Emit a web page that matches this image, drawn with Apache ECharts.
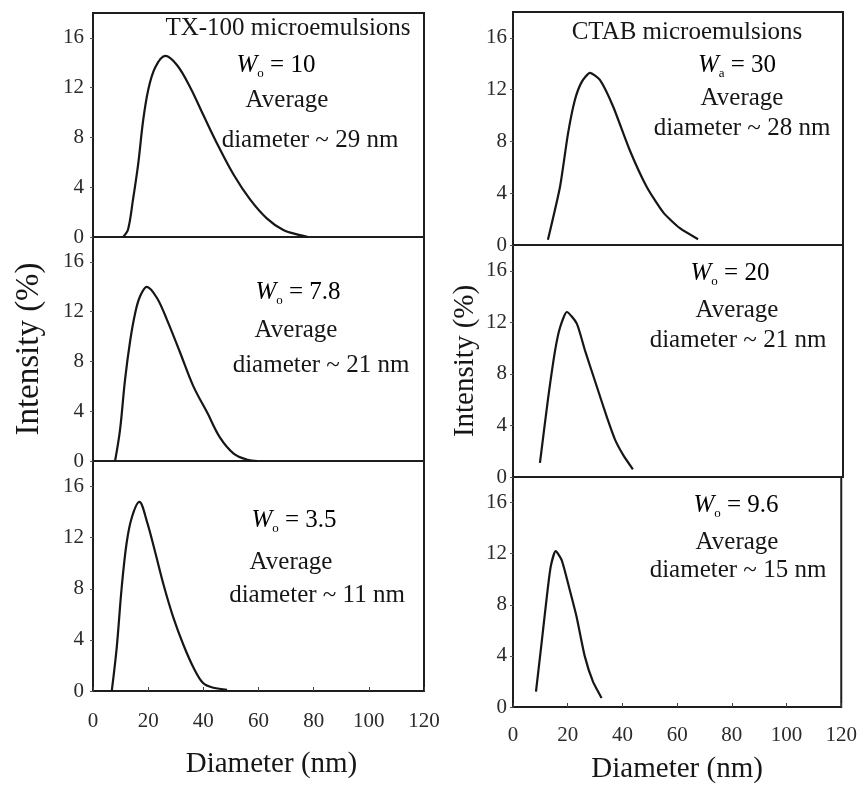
<!DOCTYPE html>
<html><head><meta charset="utf-8">
<script src="https://cdn.jsdelivr.net/npm/echarts@6/dist/echarts.min.js"></script>
<style>html,body{margin:0;padding:0;background:#fff}#c{width:860px;height:785px}</style>
</head><body><div id="c"></div>
<script>
// TX-100 microemulsions
var txW10_x = [10.9, 12.7, 14.5, 16.4, 18.2, 20, 22.5, 26.2, 30.5, 35.3, 40, 45, 51, 57, 63, 69, 75, 78];
var txW10_y = [0, 0.6, 3, 5.9, 9.4, 11.8, 13.6, 14.55, 13.8, 12, 9.8, 7.5, 5, 3, 1.5, 0.56, 0.15, 0];
var txW78_x = [8, 9.8, 11.6, 13.5, 15.3, 17, 19.5, 23.2, 26.9, 31.6, 36.4, 41.5, 46, 51, 56, 59.6];
var txW78_y = [0, 2.5, 6.5, 9.7, 11.9, 13.2, 14.0, 13.1, 11.3, 8.7, 6.0, 3.85, 1.9, 0.6, 0.1, 0];
var txW35_x = [6.8, 8.6, 10.4, 12.2, 14.1, 16.8, 19.5, 22.5, 25.6, 29.2, 32.8, 36.5, 40, 43.7, 48.6];
var txW35_y = [0, 3.4, 8.1, 11.6, 13.6, 14.8, 13.3, 10.9, 8.3, 5.7, 3.6, 1.8, 0.6, 0.25, 0.1];
// CTAB microemulsions
var ctW30_x = [12.7, 17.1, 20, 22.5, 25, 28, 31.6, 36.4, 42.5, 48.6, 54.7, 60.7, 67.3];
var ctW30_y = [0.4, 4.5, 8.6, 11.2, 12.6, 13.3, 12.75, 10.7, 7.3, 4.5, 2.5, 1.3, 0.45];
var ctW20_x = [9.8, 12.7, 15.3, 17.1, 19.6, 23.2, 26.2, 30.5, 34.2, 37.1, 40.1, 43.6];
var ctW20_y = [1.1, 6, 9.8, 11.6, 12.8, 11.9, 9.8, 7, 4.6, 2.9, 1.7, 0.6];
var ctW96_x = [8.4, 10.5, 12.4, 13.8, 15.6, 17.8, 20.7, 23.2, 26.2, 29.2, 32.4];
var ctW96_y = [1.2, 5.1, 8.7, 11, 12.2, 11.5, 9.2, 7.1, 4, 2, 0.7];

var yTicks = [0, 4, 8, 12, 16];
var xTicks = [0, 20, 40, 60, 80, 100, 120];

var FONT = '"Liberation Serif", "Times New Roman", serif';
var INK = '#161616';

function pairs(xs, ys){ return xs.map(function(x,i){return [x, ys[i]];}); }

var grids = [
  {left: 93, top: 13, width: 331, height: 224},
  {left: 93, top: 237, width: 331, height: 224},
  {left: 93, top: 461, width: 331, height: 230},
  {left: 513, top: 12, width: 330, height: 233},
  {left: 513, top: 245, width: 330, height: 232},
  {left: 513, top: 477, width: 330, height: 232}
].map(function(g){ return Object.assign({show: true, borderColor: '#1e1e1e', borderWidth: 2, backgroundColor: 'transparent', containLabel: false}, g); });

var curves = [
  pairs(txW10_x, txW10_y), pairs(txW78_x, txW78_y), pairs(txW35_x, txW35_y),
  pairs(ctW30_x, ctW30_y), pairs(ctW20_x, ctW20_y), pairs(ctW96_x, ctW96_y)
];

var xAxes = [], yAxes = [], series = [];
for (var i = 0; i < 6; i++) {
  var bottom = (i === 2 || i === 5);
  var right = i >= 3;
  var xa = {
    gridIndex: i, type: 'value', min: xTicks[0], max: xTicks[xTicks.length-1], interval: 20,
    axisLine: {show: false}, splitLine: {show: false},
    axisTick: {show: bottom, inside: true, length: 4, lineStyle: {color: '#444'}},
    axisLabel: {show: bottom, fontFamily: FONT, fontSize: 21, color: '#2a2a2a', margin: right ? 18 : 20}
  };
  if (bottom) {
    xa.name = 'Diameter (nm)';
    xa.nameLocation = 'middle';
    xa.nameGap = right ? 48 : 59;
    xa.nameTextStyle = {fontFamily: FONT, fontSize: 29, color: INK, padding: right ? 0 : [0, 0, 0, 26]};
  }
  xAxes.push(xa);
  var ya = {
    gridIndex: i, type: 'value', min: yTicks[0], max: 18, interval: 4,
    axisLine: {show: false}, splitLine: {show: false},
    axisTick: {show: true, length: 3, lineStyle: {color: '#555'}},
    axisLabel: {showMaxLabel: false, fontFamily: FONT, fontSize: 21, color: '#2a2a2a', margin: right ? 6 : 9}
  };
  if (i === 1 || i === 4) {
    ya.name = 'Intensity (%)';
    ya.nameLocation = 'middle';
    ya.nameGap = right ? 33 : 47;
    ya.nameTextStyle = {fontFamily: FONT, fontSize: right ? 29 : 33, color: INK};
  }
  yAxes.push(ya);
  series.push({
    type: 'line', xAxisIndex: i, yAxisIndex: i, data: curves[i],
    showSymbol: false, symbol: 'none', smooth: right ? 0.2 : 0.35,
    lineStyle: {color: INK, width: 2.2}, silent: true
  });
}

var rich = {
  w: {fontFamily: FONT, fontStyle: 'italic', fontSize: 25, lineHeight: 30, color: INK},
  s: {fontFamily: FONT, fontSize: 13, lineHeight: 12, verticalAlign: 'bottom', color: INK},
  n: {fontFamily: FONT, fontSize: 25, lineHeight: 30, color: INK}
};
function txt(x, y, s) {
  return {type: 'text', x: x, y: y, silent: true,
    style: {text: s, fill: INK, font: '25px ' + FONT, align: 'center', verticalAlign: 'middle'}};
}
function wtxt(x, y, sub, val) {
  return {type: 'text', x: x, y: y, silent: true,
    style: {text: '{w|W}{s|' + sub + '}{n| = ' + val + '}', rich: rich, align: 'center', verticalAlign: 'middle'}};
}

var graphics = [
  txt(288, 28, 'TX-100 microemulsions'),
  wtxt(276, 65, 'o', '10'), txt(287, 100, 'Average'), txt(310, 140, 'diameter ~ 29 nm'),
  wtxt(298, 292, 'o', '7.8'), txt(296, 330, 'Average'), txt(321, 365, 'diameter ~ 21 nm'),
  wtxt(294, 520, 'o', '3.5'), txt(291, 562, 'Average'), txt(317, 595, 'diameter ~ 11 nm'),
  txt(687, 32, 'CTAB microemulsions'),
  wtxt(737, 65, 'a', '30'), txt(742, 98, 'Average'), txt(742, 128, 'diameter ~ 28 nm'),
  wtxt(730, 273, 'o', '20'), txt(737, 310, 'Average'), txt(738, 340, 'diameter ~ 21 nm'),
  wtxt(736, 505, 'o', '9.6'), txt(737, 542, 'Average'), txt(738, 570, 'diameter ~ 15 nm')
];

var chart = echarts.init(document.getElementById('c'), null, {renderer: 'canvas'});
chart.setOption({
  animation: false,
  backgroundColor: '#fff',
  grid: grids, xAxis: xAxes, yAxis: yAxes, series: series,
  graphic: graphics
});
</script></body></html>
